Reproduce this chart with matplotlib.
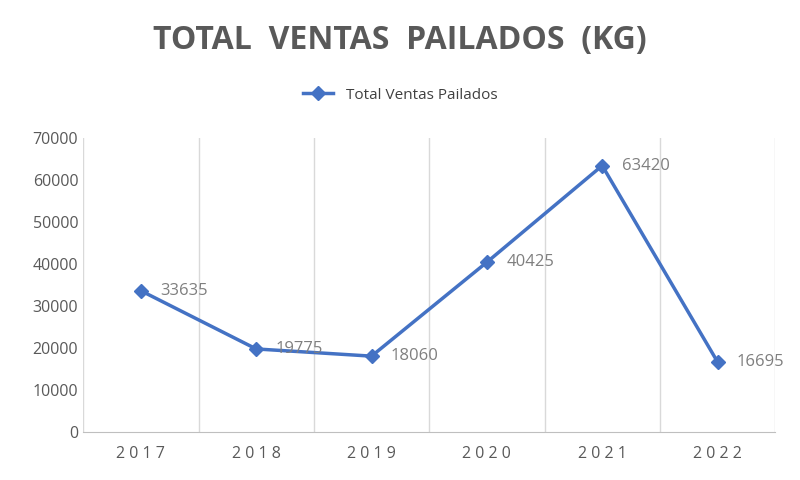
import matplotlib
matplotlib.use("Agg")
import matplotlib.pyplot as plt

years = ["2017", "2018", "2019", "2020", "2021", "2022"]
ventas = [33635, 19775, 18060, 40425, 63420, 16695]
series_name = "Total Ventas Pailados"
title = "TOTAL VENTAS PAILADOS (KG)"

plt.rcParams["font.family"] = "Open Sans"
fig = plt.figure(figsize=(8, 4.8), dpi=100)
ax = fig.add_axes([0.104, 0.1, 0.865, 0.6125])
x = list(range(len(years)))
color = "#4472C4"
ax.plot(x, ventas, color=color, lw=2.5, marker="D", ms=7, label=series_name)
for xi, v in zip(x, ventas):
    ax.annotate(str(v), (xi, v), xytext=(14, 0), textcoords="offset points",
                va="center", ha="left", fontsize=12, color="#7F7F7F")
ax.set_xlim(-0.5, len(years) - 0.5)
ax.set_ylim(0, 70000)
ax.set_yticks(range(0, 70001, 10000))
ax.set_xticks(x)
ax.set_xticklabels([" ".join(y) for y in years])
for b in range(len(years) + 1):
    ax.axvline(b - 0.5, color="#D9D9D9", lw=1, zorder=0)
for s in ["top", "right", "left"]:
    ax.spines[s].set_visible(False)
ax.spines["bottom"].set_color("#BFBFBF")
ax.tick_params(length=0, labelsize=11.5, colors="#595959")
ax.tick_params(axis="x", pad=10)
fig.text(0.5, 0.915, "  ".join(title.split(" ")), ha="center", va="center",
         fontsize=23, fontweight="bold", color="#595959")
fig.legend(loc="center", bbox_to_anchor=(0.5, 0.802), frameon=False, fontsize=11,
           labelcolor="#404040")
fig.savefig("out.png", dpi=100)
